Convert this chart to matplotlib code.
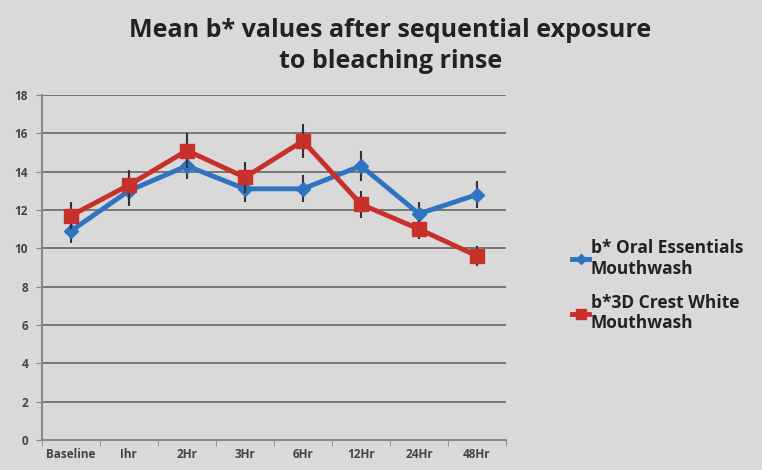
import matplotlib.pyplot as plt
from matplotlib.lines import Line2D
import numpy as np

categories = ["Baseline", "Ihr", "2Hr", "3Hr", "6Hr", "12Hr", "24Hr", "48Hr"]
oral = [10.9, 13.0, 14.3, 13.1, 13.1, 14.3, 11.8, 12.8]
oral_err = [0.6, 0.8, 0.7, 0.7, 0.7, 0.8, 0.6, 0.7]
crest = [11.7, 13.3, 15.1, 13.7, 15.6, 12.3, 11.0, 9.6]
crest_err = [0.7, 0.8, 0.9, 0.8, 0.9, 0.7, 0.5, 0.5]

bg = "#d9d9d9"
blue = "#2f74c0"
red = "#c8302b"
plt.rcParams['font.family'] = ['Open Sans', 'DejaVu Sans']

fig = plt.figure(figsize=(7.62, 4.70), dpi=100, facecolor=bg)
ax = fig.add_axes([0.055, 0.064, 0.609, 0.734], facecolor=bg)

x = np.arange(len(categories))
ax.errorbar(x, oral, yerr=oral_err, color=blue, lw=3.5, marker="D", ms=7,
            ecolor="#333333", elinewidth=1.5, capsize=0, zorder=3)
ax.errorbar(x, crest, yerr=crest_err, color=red, lw=3.5, marker="s", ms=10,
            ecolor="#333333", elinewidth=1.5, capsize=0, zorder=4)

ax.set_xlim(-0.5, len(categories) - 0.5)
ax.set_ylim(0, 18)
ax.set_yticks(range(0, 19, 2))
ax.set_xticks(x)
ax.set_xticklabels(categories)
ax.set_xticks(np.arange(-0.5, len(categories), 1), minor=True)
ax.tick_params(axis="x", which="major", length=0, pad=6)
ax.tick_params(axis="x", which="minor", length=4, color="#888888")
ax.tick_params(axis="y", length=4, color="#888888", pad=6)
for lab in ax.get_xticklabels() + ax.get_yticklabels():
    lab.set_fontsize(8.5)
    lab.set_fontweight("bold")
    lab.set_color("#444444")

ax.grid(axis="y", color="#666666", lw=1.2)
ax.set_axisbelow(True)
for s in ["top", "right"]:
    ax.spines[s].set_visible(False)
ax.spines["left"].set_color("#888888")
ax.spines["left"].set_linewidth(1.5)
ax.spines["bottom"].set_color("#888888")
ax.spines["bottom"].set_linewidth(1.5)

fig.text(0.512, 0.902, "Mean b* values after sequential exposure\nto bleaching rinse",
         ha="center", va="center", fontsize=18, fontweight="bold", color="#222222",
         linespacing=1.35)

handles = [Line2D([], [], color=blue, lw=3.5, marker="D", ms=5),
           Line2D([], [], color=red, lw=3.5, marker="s", ms=7)]
labels = ["b* Oral Essentials\nMouthwash", "b*3D Crest White\nMouthwash"]
leg = fig.legend(handles, labels, loc="center left", bbox_to_anchor=(0.73, 0.392),
                 frameon=False, fontsize=12.5, handlelength=1.0, handletextpad=0.1,
                 labelspacing=0.9)
for t in leg.get_texts():
    t.set_fontweight("bold")
    t.set_color("#222222")
    t.set_linespacing(1.2)

fig.savefig("out.png", dpi=100, facecolor=bg)
